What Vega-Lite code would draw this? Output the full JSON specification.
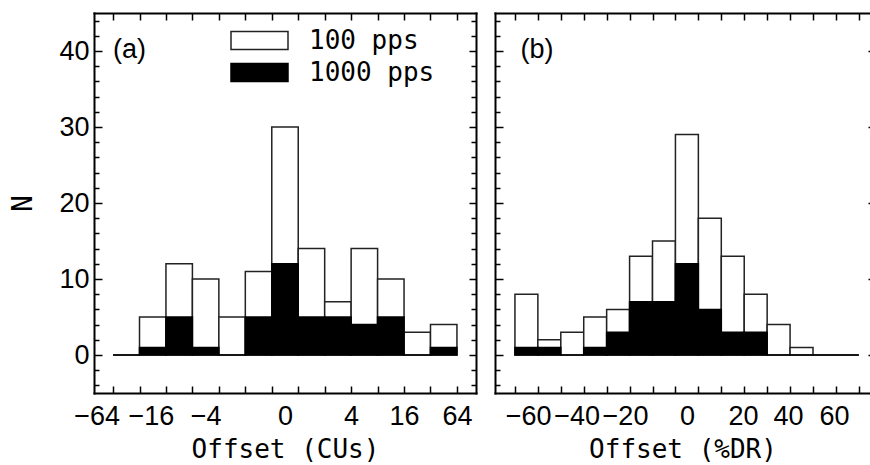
{
  "$schema": "https://vega.github.io/schema/vega-lite/v6.json",
  "background": "white",
  "padding": {"left": 9, "top": 12, "right": 0, "bottom": 0},
  "config": {
    "view": {"stroke": null},
    "axis": {
      "grid": false,
      "domainColor": "black",
      "domainWidth": 2,
      "domainCap": "square",
      "tickColor": "black",
      "tickWidth": 1.5,
      "labelColor": "black",
      "labelFont": "Liberation Sans",
      "titleColor": "black",
      "titleFont": "DejaVu Sans Mono",
      "titleFontSize": 26,
      "titleFontWeight": "normal",
      "labelOverlap": false,
      "labelFlush": false,
      "labelBound": false
    }
  },
  "datasets": {
    "a": [
      {"lo": 0, "hi": 1, "rate": "100 pps", "n": 0},
      {"lo": 1, "hi": 2, "rate": "100 pps", "n": 5},
      {"lo": 2, "hi": 3, "rate": "100 pps", "n": 12},
      {"lo": 3, "hi": 4, "rate": "100 pps", "n": 10},
      {"lo": 4, "hi": 5, "rate": "100 pps", "n": 5},
      {"lo": 5, "hi": 6, "rate": "100 pps", "n": 11},
      {"lo": 6, "hi": 7, "rate": "100 pps", "n": 30},
      {"lo": 7, "hi": 8, "rate": "100 pps", "n": 14},
      {"lo": 8, "hi": 9, "rate": "100 pps", "n": 7},
      {"lo": 9, "hi": 10, "rate": "100 pps", "n": 14},
      {"lo": 10, "hi": 11, "rate": "100 pps", "n": 10},
      {"lo": 11, "hi": 12, "rate": "100 pps", "n": 3},
      {"lo": 12, "hi": 13, "rate": "100 pps", "n": 4},
      {"lo": 0, "hi": 1, "rate": "1000 pps", "n": 0},
      {"lo": 1, "hi": 2, "rate": "1000 pps", "n": 1},
      {"lo": 2, "hi": 3, "rate": "1000 pps", "n": 5},
      {"lo": 3, "hi": 4, "rate": "1000 pps", "n": 1},
      {"lo": 4, "hi": 5, "rate": "1000 pps", "n": 0},
      {"lo": 5, "hi": 6, "rate": "1000 pps", "n": 5},
      {"lo": 6, "hi": 7, "rate": "1000 pps", "n": 12},
      {"lo": 7, "hi": 8, "rate": "1000 pps", "n": 5},
      {"lo": 8, "hi": 9, "rate": "1000 pps", "n": 5},
      {"lo": 9, "hi": 10, "rate": "1000 pps", "n": 4},
      {"lo": 10, "hi": 11, "rate": "1000 pps", "n": 5},
      {"lo": 11, "hi": 12, "rate": "1000 pps", "n": 0},
      {"lo": 12, "hi": 13, "rate": "1000 pps", "n": 1}
    ],
    "b": [
      {"lo": -75, "hi": -65, "rate": "100 pps", "n": 8},
      {"lo": -65, "hi": -55, "rate": "100 pps", "n": 2},
      {"lo": -55, "hi": -45, "rate": "100 pps", "n": 3},
      {"lo": -45, "hi": -35, "rate": "100 pps", "n": 5},
      {"lo": -35, "hi": -25, "rate": "100 pps", "n": 6},
      {"lo": -25, "hi": -15, "rate": "100 pps", "n": 13},
      {"lo": -15, "hi": -5, "rate": "100 pps", "n": 15},
      {"lo": -5, "hi": 5, "rate": "100 pps", "n": 29},
      {"lo": 5, "hi": 15, "rate": "100 pps", "n": 18},
      {"lo": 15, "hi": 25, "rate": "100 pps", "n": 13},
      {"lo": 25, "hi": 35, "rate": "100 pps", "n": 8},
      {"lo": 35, "hi": 45, "rate": "100 pps", "n": 4},
      {"lo": 45, "hi": 55, "rate": "100 pps", "n": 1},
      {"lo": 55, "hi": 65, "rate": "100 pps", "n": 0},
      {"lo": 65, "hi": 75, "rate": "100 pps", "n": 0},
      {"lo": -75, "hi": -65, "rate": "1000 pps", "n": 1},
      {"lo": -65, "hi": -55, "rate": "1000 pps", "n": 1},
      {"lo": -55, "hi": -45, "rate": "1000 pps", "n": 0},
      {"lo": -45, "hi": -35, "rate": "1000 pps", "n": 1},
      {"lo": -35, "hi": -25, "rate": "1000 pps", "n": 3},
      {"lo": -25, "hi": -15, "rate": "1000 pps", "n": 7},
      {"lo": -15, "hi": -5, "rate": "1000 pps", "n": 7},
      {"lo": -5, "hi": 5, "rate": "1000 pps", "n": 12},
      {"lo": 5, "hi": 15, "rate": "1000 pps", "n": 6},
      {"lo": 15, "hi": 25, "rate": "1000 pps", "n": 3},
      {"lo": 25, "hi": 35, "rate": "1000 pps", "n": 3},
      {"lo": 35, "hi": 45, "rate": "1000 pps", "n": 0},
      {"lo": 45, "hi": 55, "rate": "1000 pps", "n": 0},
      {"lo": 55, "hi": 65, "rate": "1000 pps", "n": 0},
      {"lo": 65, "hi": 75, "rate": "1000 pps", "n": 0}
    ]
  },
  "spacing": 17,
  "resolve": {"legend": {"fill": "independent", "stroke": "independent"}},
  "hconcat": [
    {
      "width": 382,
      "height": 380,
      "resolve": {"axis": {"x": "independent", "y": "independent"}},
      "layer": [
        {
          "data": {"name": "a"},
          "mark": {"type": "bar", "strokeWidth": 1.5},
          "encoding": {
            "x": {
              "field": "lo", "type": "quantitative",
              "scale": {"domain": [-0.72, 13.72], "nice": false, "zero": false},
              "axis": {
                "orient": "bottom",
                "values": [0, 1, 2, 3, 4, 5, 6, 7, 8, 9, 10, 11, 12, 13, -0.62, 1.43, 3.5, 6.5],
                "labelExpr": "datum.value === 6.5 ? '0' : datum.value === 9 ? '4' : datum.value === 11 ? '16' : datum.value === 13 ? '64' : datum.value === -0.62 ? '\u221264' : datum.value === 1.43 ? '\u221216' : datum.value === 3.5 ? '\u22124' : ''",
                "tickOpacity": {"condition": {"test": "datum.value % 1 !== 0", "value": 0}, "value": 1},
                "tickSize": -7,
                "labelPadding": 17,
                "labelFontSize": 27,
                "title": "Offset (CUs)",
                "titlePadding": 7
              }
            },
            "x2": {"field": "hi"},
            "y": {
              "field": "n", "type": "quantitative", "stack": null,
              "scale": {"domain": [-5, 45], "nice": false, "zero": false},
              "axis": {
                "orient": "left",
                "values": [-4, -2, 0, 2, 4, 6, 8, 10, 12, 14, 16, 18, 20, 22, 24, 26, 28, 30, 32, 34, 36, 38, 40, 42, 44],
                "labelExpr": "datum.value % 10 === 0 ? datum.label : ''",
                "labelFontSize": {"condition": {"test": "datum.value % 10 === 0", "value": 27}, "value": 0},
                "tickSize": {"condition": {"test": "datum.value % 10 === 0", "value": -8}, "value": -5},
                "labelPadding": 13,
                "title": "N",
                "titleFontSize": 28,
                "titlePadding": 21
              }
            },
            "y2": {"datum": 0},
            "fill": {
              "field": "rate", "type": "nominal",
              "scale": {"domain": ["100 pps", "1000 pps"], "range": ["white", "black"]},
              "legend": {
                "orient": "none", "legendX": 136, "legendY": 11.5, "title": null,
                "symbolType": "M-1,-0.316H1V0.316H-1Z", "symbolSize": 3249, "symbolStrokeWidth": 1.5,
                "labelFont": "DejaVu Sans Mono", "labelFontSize": 26, "labelColor": "black",
                "labelOffset": 20, "clipHeight": 32, "rowPadding": 0, "padding": 0
              }
            },
            "stroke": {
              "field": "rate", "type": "nominal",
              "scale": {"domain": ["100 pps", "1000 pps"], "range": ["#222222", "black"]},
              "legend": {
                "orient": "none", "legendX": 136, "legendY": 11.5, "title": null,
                "symbolType": "M-1,-0.316H1V0.316H-1Z", "symbolSize": 3249, "symbolStrokeWidth": 1.5,
                "labelFont": "DejaVu Sans Mono", "labelFontSize": 26, "labelColor": "black",
                "labelOffset": 20, "clipHeight": 32, "rowPadding": 0, "padding": 0
              }
            }
          }
        },
        {
          "data": {"values": [{"panel": "(a)"}]},
          "mark": {"type": "text", "font": "Liberation Sans", "fontSize": 27, "align": "left", "baseline": "alphabetic", "color": "black"},
          "encoding": {
            "text": {"field": "panel"},
            "x": {
              "datum": 0, "type": "quantitative",
              "scale": {"domain": [-0.72, 13.72], "nice": false, "zero": false},
              "axis": {"orient": "top", "values": [0, 1, 2, 3, 4, 5, 6, 7, 8, 9, 10, 11, 12, 13], "labels": false, "tickSize": -7, "title": null}
            },
            "y": {
              "datum": 39.1, "type": "quantitative",
              "scale": {"domain": [-5, 45], "nice": false, "zero": false},
              "axis": {
                "orient": "right",
                "values": [-4, -2, 0, 2, 4, 6, 8, 10, 12, 14, 16, 18, 20, 22, 24, 26, 28, 30, 32, 34, 36, 38, 40, 42, 44],
                "labels": false,
                "tickSize": {"condition": {"test": "datum.value % 10 === 0", "value": -7}, "value": -5},
                "title": null
              }
            }
          }
        }
      ]
    },
    {
      "width": 375,
      "height": 380,
      "resolve": {"axis": {"x": "independent", "y": "independent"}},
      "layer": [
        {
          "data": {"name": "b"},
          "mark": {"type": "bar", "strokeWidth": 1.5},
          "encoding": {
            "x": {
              "field": "lo", "type": "quantitative",
              "scale": {"domain": [-83.7, 79.86], "nice": false, "zero": false},
              "axis": {
                "orient": "bottom",
                "values": [-75, -65, -55, -45, -35, -25, -15, -5, 5, 15, 25, 35, 45, 55, 65, 75, -69.2, -48.1, -27, 0, 24.5, 44.1, 64.2],
                "labelExpr": "datum.value === -69.2 ? '\u221260' : datum.value === -48.1 ? '\u221240' : datum.value === -27 ? '\u221220' : datum.value === 0 ? '0' : datum.value === 24.5 ? '20' : datum.value === 44.1 ? '40' : datum.value === 64.2 ? '60' : ''",
                "tickOpacity": {"condition": {"test": "abs(datum.value % 10) !== 5", "value": 0}, "value": 1},
                "tickSize": -7,
                "labelPadding": 17,
                "labelFontSize": 27,
                "title": "Offset (%DR)",
                "titlePadding": 7
              }
            },
            "x2": {"field": "hi"},
            "y": {
              "field": "n", "type": "quantitative", "stack": null,
              "scale": {"domain": [-5, 45], "nice": false, "zero": false},
              "axis": {
                "orient": "left",
                "values": [-4, -2, 0, 2, 4, 6, 8, 10, 12, 14, 16, 18, 20, 22, 24, 26, 28, 30, 32, 34, 36, 38, 40, 42, 44],
                "labels": false,
                "tickSize": {"condition": {"test": "datum.value % 10 === 0", "value": -8}, "value": -5},
                "title": null
              }
            },
            "y2": {"datum": 0},
            "fill": {
              "field": "rate", "type": "nominal",
              "scale": {"domain": ["100 pps", "1000 pps"], "range": ["white", "black"]},
              "legend": null
            },
            "stroke": {
              "field": "rate", "type": "nominal",
              "scale": {"domain": ["100 pps", "1000 pps"], "range": ["#222222", "black"]},
              "legend": null
            }
          }
        },
        {
          "data": {"values": [{"panel": "(b)"}]},
          "mark": {"type": "text", "font": "Liberation Sans", "fontSize": 27, "align": "left", "baseline": "alphabetic", "color": "black"},
          "encoding": {
            "text": {"field": "panel"},
            "x": {
              "datum": -72.6, "type": "quantitative",
              "scale": {"domain": [-83.7, 79.86], "nice": false, "zero": false},
              "axis": {"orient": "top", "values": [-75, -65, -55, -45, -35, -25, -15, -5, 5, 15, 25, 35, 45, 55, 65, 75], "labels": false, "tickSize": -7, "title": null}
            },
            "y": {
              "datum": 39.1, "type": "quantitative",
              "scale": {"domain": [-5, 45], "nice": false, "zero": false},
              "axis": {"orient": "right", "values": [0, 10, 20, 30, 40], "labels": false, "domain": false, "tickSize": -2, "title": null}
            }
          }
        }
      ]
    }
  ]
}
